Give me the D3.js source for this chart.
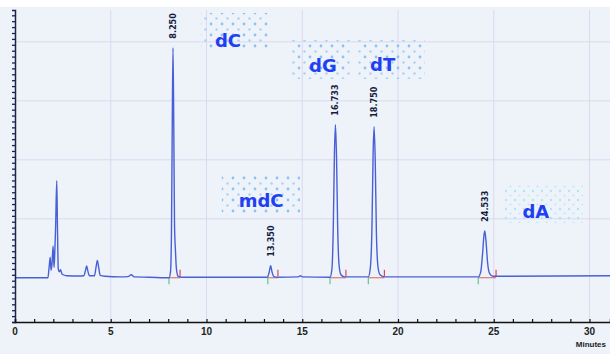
<!DOCTYPE html>
<html>
<head>
<meta charset="utf-8">
<script src="https://cdn.jsdelivr.net/npm/d3@7"></script>
<style>
    body { margin: 0; background: #fff; }
    .tick-label { font-family: "Liberation Sans", Arial, sans-serif; font-weight: bold; font-size: 10px; fill: #222; }
    .peak-label { font-family: "Liberation Sans Narrow", "DejaVu Sans Condensed", sans-serif; font-weight: bold; font-size: 9px; fill: #151c40; }
    .compound { font-family: "DejaVu Sans", sans-serif; font-weight: bold; font-size: 18px; fill: #1f3ff2; }
</style>
</head>
<body>
<div id="chart"></div>
<script>

// retention times (minutes) of the labelled peaks and their printed labels
var peakTimes = [8.250, 13.350, 16.733, 18.750, 24.533];
var peakHeights = [7.8, 0.41, 5.19, 5.12, 1.59];
var peakLabels = ["8.250", "13.350", "16.733", "18.750", "24.533"];

// integration start / end markers
var integStart = [8.04, 13.2, 16.45, 18.45, 24.19];
var integEnd = [8.62, 13.73, 17.28, 19.29, 25.12];

// x axis tick labels
var xTickValues = [0, 5, 10, 15, 20, 25, 30];

// compound annotations: name, box (minutes / signal), text anchor
var compounds = ["dC", "dG", "dT", "mdC", "dA"];
var boxX0 = [9.71, 14.36, 17.8, 10.8, 25.48];
var boxX1 = [13.32, 17.6, 21.4, 14.88, 29.66];
var boxY0 = [8.98, 8.07, 8.07, 3.46, 3.15];
var boxY1 = [7.73, 6.75, 6.75, 2.14, 1.86];
var textX = [11.12, 16.08, 19.2, 12.85, 27.2];
var textY = [7.83, 6.98, 7.0, 2.41, 2.03];

// detector trace [minutes, signal]
var trace = [
    [0, 0], [1.72, 0], [1.78, 0.35], [1.84, 0.7], [1.88, 0.25], [1.93, 0.45],
    [1.99, 1.08], [2.04, 0.35], [2.08, 0.9], [2.12, 1.7], [2.18, 3.29], [2.22, 1.6],
    [2.26, 0.3], [2.32, 0.2], [2.38, 0.27], [2.46, 0.12], [2.7, 0.07], [3.3, 0.06],
    [3.6, 0.07], [3.68, 0.25], [3.74, 0.4], [3.8, 0.24], [3.88, 0.07], [4.15, 0.07],
    [4.23, 0.35], [4.3, 0.59], [4.37, 0.35], [4.45, 0.08], [4.7, 0.05], [5.5, 0.03],
    [5.9, 0.04], [6.07, 0.1], [6.22, 0.03], [7.0, 0.02], [8.04, 0.0], [8.12, 0.2],
    [8.17, 1.5], [8.21, 5.0], [8.25, 7.8], [8.29, 5.2], [8.33, 1.8], [8.38, 0.9],
    [8.43, 0.3], [8.52, 0.05], [8.7, 0.02], [10, 0.02], [13.18, 0.02], [13.27, 0.18],
    [13.35, 0.41], [13.42, 0.2], [13.52, 0.04], [13.7, 0.02], [14.8, 0.03], [14.9, 0.07],
    [15.0, 0.03], [16.45, 0.02], [16.55, 0.3], [16.62, 1.7], [16.68, 4.2], [16.733, 5.19],
    [16.79, 4.1], [16.85, 1.7], [16.92, 0.45], [17.02, 0.1], [17.2, 0.03], [18.45, 0.03],
    [18.55, 0.3], [18.64, 1.7], [18.7, 4.2], [18.75, 5.12], [18.81, 4.0], [18.87, 1.6],
    [18.95, 0.4], [19.06, 0.1], [19.3, 0.03], [24.19, 0.03], [24.32, 0.2], [24.42, 0.85],
    [24.49, 1.45], [24.533, 1.59], [24.6, 1.2], [24.68, 0.5], [24.78, 0.15], [24.95, 0.05],
    [31.1, 0.07]
];


var width = 610,
    height = 354;

var margin = {
    top: 10,
    left: 15,
    bottom: 322
};

var svg = d3.select("#chart")
    .append("svg")
    .attr("width", width)
    .attr("height", height);

var x = d3.scaleLinear().domain([0, 31.07]).range([margin.left, width]),
    y = d3.scaleLinear().domain([-1.5, 9.08]).range([margin.bottom, margin.top]);

// paper background
svg.append("rect")
    .attr("x", 0)
    .attr("y", 7)
    .attr("width", width)
    .attr("height", height - 7)
    .attr("fill", "#eef2f9");

// dot pattern for the annotation boxes
var defs = svg.append("defs");

var pat = defs.append("pattern")
    .attr("id", "dots")
    .attr("patternUnits", "userSpaceOnUse")
    .attr("width", 11)
    .attr("height", 11);
pat.append("circle").attr("cx", 2).attr("cy", 2).attr("r", 1.4).attr("fill", "#8ec2f4");
pat.append("circle").attr("cx", 7.5).attr("cy", 7.5).attr("r", 1.2).attr("fill", "#a9d2f7");

var pat2 = defs.append("pattern")
    .attr("id", "dots2")
    .attr("patternUnits", "userSpaceOnUse")
    .attr("width", 9)
    .attr("height", 9);
pat2.append("circle").attr("cx", 2).attr("cy", 2).attr("r", 1.2).attr("fill", "#aee4f6");
pat2.append("circle").attr("cx", 6.5).attr("cy", 6.5).attr("r", 1.1).attr("fill", "#bfe9f8");

// grid
var grid = svg.append("g").attr("class", "grid");

grid.selectAll(".vgrid")
    .data(xTickValues.slice(1))
    .enter().append("line")
    .attr("x1", function(d) { return x(d); })
    .attr("x2", function(d) { return x(d); })
    .attr("y1", y(9.08))
    .attr("y2", y(-1.5))
    .attr("stroke", "#dcd8ee")
    .attr("stroke-width", 1);

grid.selectAll(".hgrid")
    .data([2, 4, 6, 8])
    .enter().append("line")
    .attr("x1", x(0))
    .attr("x2", width)
    .attr("y1", function(d) { return y(d); })
    .attr("y2", function(d) { return y(d); })
    .attr("stroke", "#dcd8ee")
    .attr("stroke-width", 1);

// annotation boxes
var notes = svg.append("g").attr("class", "compounds");

notes.selectAll("rect")
    .data(compounds)
    .enter().append("rect")
    .attr("x", function(d, i) { return x(boxX0[i]); })
    .attr("y", function(d, i) { return y(boxY0[i]); })
    .attr("width", function(d, i) { return x(boxX1[i]) - x(boxX0[i]); })
    .attr("height", function(d, i) { return y(boxY1[i]) - y(boxY0[i]); })
    .attr("fill", function(d) { return d == "dA" ? "url(#dots2)" : "url(#dots)"; });

notes.selectAll("text")
    .data(compounds)
    .enter().append("text")
    .attr("class", "compound")
    .attr("x", function(d, i) { return x(textX[i]); })
    .attr("y", function(d, i) { return y(textY[i]); })
    .attr("text-anchor", "middle")
    .text(function(d) { return d; });

// integration baselines and markers
var integ = svg.append("g").attr("class", "integration");

integ.selectAll(".ibase")
    .data(integStart)
    .enter().append("line")
    .attr("x1", function(d) { return x(d); })
    .attr("x2", function(d, i) { return x(integEnd[i]); })
    .attr("y1", y(0))
    .attr("y2", y(0))
    .attr("stroke", "#e0605a")
    .attr("stroke-width", 1);

integ.selectAll(".istart")
    .data(integStart)
    .enter().append("line")
    .attr("x1", function(d) { return x(d); })
    .attr("x2", function(d) { return x(d); })
    .attr("y1", y(0))
    .attr("y2", y(-0.22))
    .attr("stroke", "#5cc98a")
    .attr("stroke-width", 1.2);

integ.selectAll(".iend")
    .data(integEnd)
    .enter().append("line")
    .attr("x1", function(d) { return x(d); })
    .attr("x2", function(d) { return x(d); })
    .attr("y1", y(0.05))
    .attr("y2", y(0.27))
    .attr("stroke", "#e04848")
    .attr("stroke-width", 1.2);

// trace
var traceLine = d3.line()
    .x(function(d) { return x(d[0]); })
    .y(function(d) { return y(d[1]); })
    .curve(d3.curveMonotoneX);

svg.append("path")
    .datum(trace)
    .attr("fill", "none")
    .attr("stroke", "#4860d6")
    .attr("stroke-width", 1.4)
    .attr("stroke-linejoin", "round")
    .attr("d", traceLine);

// peak labels (rotated)
svg.selectAll(".peak-label")
    .data(peakLabels)
    .enter().append("text")
    .attr("class", "peak-label")
    .attr("transform", function(d, i) {
        return "translate(" + (x(peakTimes[i]) + 3) + "," + (y(peakHeights[i]) - 9) + ") rotate(-90)";
    })
    .attr("text-anchor", "start")
    .text(function(d) { return d; });

// y axis
var yAxis = d3.axisLeft(y)
    .tickValues(d3.range(-15, 91, 2).map(function(v) { return v / 10; }))
    .tickFormat("")
    .tickSizeOuter(0)
    .tickSize(3);

var gy = svg.append("g")
    .attr("transform", "translate(" + x(0) + ",0)")
    .call(yAxis);

gy.selectAll(".tick line")
    .attr("x2", function(d) { return Math.abs(d - Math.round(d)) < 0.01 ? -5 : -3; })
    .attr("stroke", "#1b2350")
    .attr("stroke-width", 1.3);
gy.select(".domain").attr("stroke", "#1b2350").attr("stroke-width", 1.5);

// x axis
var xAxis = d3.axisBottom(x)
    .tickValues(d3.range(0, 31))
    .tickFormat("")
    .tickSizeOuter(0)
    .tickSize(-3);

var gx = svg.append("g")
    .attr("transform", "translate(0," + y(-1.5) + ")")
    .call(xAxis);

gx.selectAll(".tick line").attr("stroke", "#111").attr("stroke-width", 1.2);
gx.select(".domain").attr("stroke", "#111").attr("stroke-width", 1.5);

svg.selectAll(".x-label")
    .data(xTickValues)
    .enter().append("text")
    .attr("class", "tick-label")
    .attr("x", function(d) { return x(d); })
    .attr("y", y(-1.5) + 13)
    .attr("text-anchor", "middle")
    .text(function(d) { return d; });

svg.append("text")
    .attr("class", "tick-label")
    .attr("x", width - 4)
    .attr("y", y(-1.5) + 25)
    .attr("text-anchor", "end")
    .style("font-size", "8px")
    .text("Minutes");

</script>
</body>
</html>
